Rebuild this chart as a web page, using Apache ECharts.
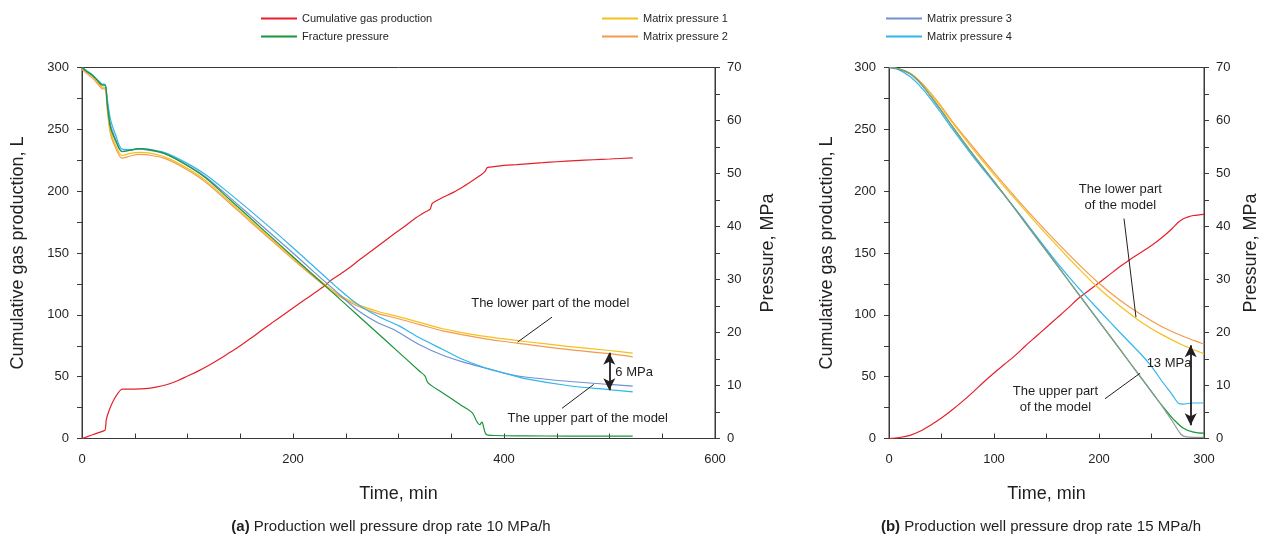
<!DOCTYPE html>
<html>
<head>
<meta charset="utf-8">
<title>Cumulative gas production and pressure</title>
<script src="https://cdn.jsdelivr.net/npm/echarts@6/dist/echarts.min.js"></script>
<style>
html, body { margin: 0; padding: 0; background: #fff; }
#chart { width: 1264px; height: 541px; }
</style>
</head>
<body>
<div id="chart"></div>
<script>
// tick labels
const timeLabelsA = [0, 200, 400, 600];
const timeLabelsB = [0, 100, 200, 300];
const gasLabels = [0, 50, 100, 150, 200, 250, 300];
const pressureLabels = [0, 10, 20, 30, 40, 50, 60, 70];

// (a) 10 MPa/h  -- [time min, value]
const gasA = [[0,0],[5,1.5],[10,3],[15,4.5],[20,6],[22,7],[23,15],[25,21],[28,27.5],[31,32.5],[34,36.5],[37,39.5],[39,40],[50,40],[60,40.3],[70,41.5],[80,43.5],[90,46.5],[100,50.5],[110,54.5],[120,59],[130,64],[140,69.5],[150,75],[160,81],[171,88],[180,93.5],[190,99.5],[200,105.5],[210,111.5],[220,117.5],[230,123.5],[236,128],[245,133],[255,139],[263,144.5],[275,152],[285,158.5],[295,165],[305,171],[315,177.5],[325,183],[330,185.5],[332,190],[340,194],[352,199],[362,204],[371,209],[378,213],[382,216],[384,219],[387,219.5],[400,220.8],[412,221.5],[425,222.3],[437,223],[450,223.8],[468,224.7],[485,225.4],[500,226],[522,227]];
const fracA = [[0,70],[5,69.2],[10,68.5],[14,67.7],[19,66.7],[22,66.7],[24,63],[27,58.7],[32,56.1],[38,54.1],[46,54.4],[54,54.7],[63,54.5],[79,53.7],[98,51.7],[117,49.2],[140,45.1],[160,41.5],[180,37.9],[200,34.3],[220,30.7],[240,27.1],[260,23.5],[280,19.9],[300,16.3],[320,12.7],[325,11.8],[328,10.5],[342,8.6],[360,6.2],[370,4.85],[374,3.3],[377,2.6],[379,3.1],[383,0.8],[390,0.57],[420,0.5],[460,0.45],[522,0.43]];
const matrix1A = [[0,69.8],[5,69],[10,68.3],[14,67.4],[19,66.3],[22,66.2],[24,62.5],[27,58],[32,55.3],[38,53.4],[46,53.8],[54,54],[63,53.9],[79,53.1],[98,51.2],[117,48.7],[140,44.7],[160,41.1],[180,37.6],[200,34.1],[220,30.7],[240,27.6],[260,25.4],[280,24],[300,23],[320,21.9],[342,20.7],[360,20],[380,19.3],[400,18.8],[420,18.3],[460,17.4],[500,16.6],[522,16.1]];
const matrix2A = [[0,69.6],[5,68.8],[10,68],[14,67.1],[19,66],[22,65.9],[24,62],[27,57.5],[32,54.8],[38,52.9],[46,53.3],[54,53.6],[63,53.5],[79,52.8],[98,50.9],[117,48.4],[140,44.4],[160,40.8],[180,37.3],[200,33.8],[220,30.4],[240,27.3],[260,25.1],[280,23.6],[300,22.6],[320,21.5],[342,20.3],[360,19.6],[380,18.9],[400,18.3],[420,17.8],[460,16.8],[500,16],[522,15.4]];
const matrix3A = [[0,70],[5,69.2],[10,68.5],[14,67.7],[19,66.7],[22,66.6],[24,63.3],[27,59.2],[32,56.4],[38,54.2],[46,54.4],[54,54.6],[63,54.4],[79,53.7],[98,51.8],[117,49.4],[140,45.5],[160,42],[180,38.5],[200,35],[220,31.4],[240,27.9],[260,24.4],[280,21.9],[295,20.6],[320,17.7],[342,15.7],[360,14.5],[380,13.4],[405,12.1],[420,11.6],[460,10.8],[500,10.2],[522,9.9]];
const matrix4A = [[0,70],[5,69.3],[10,68.6],[14,67.8],[19,66.9],[22,66.8],[24,64],[27,60.2],[32,57.2],[38,54.6],[46,54.5],[54,54.7],[63,54.6],[79,53.9],[98,52.1],[117,49.8],[140,46.2],[160,42.9],[180,39.5],[200,36],[220,32.4],[240,28.8],[260,25.5],[280,23.1],[300,21.3],[320,19],[342,16.8],[360,15],[380,13.5],[405,12.1],[420,11.3],[460,10],[500,9.2],[522,8.8]];

// (b) 15 MPa/h
const gasB = [[0,0],[10,0.8],[20,2.5],[30,6],[40,11],[50,16.5],[60,23],[70,30],[80,37.5],[90,45.5],[100,53],[110,60],[120,67],[130,75],[140,82.5],[150,90],[160,97.5],[170,105],[180,113],[190,119.5],[200,126],[210,132.5],[220,139],[230,145],[240,150.5],[250,156],[260,162.5],[270,170],[275,174.5],[280,177.5],[285,179.2],[290,180.3],[300,181.3]];
const fracB = [[0,70],[10,69.7],[20,68.8],[30,67],[40,64.5],[50,61.8],[60,59],[80,53.6],[100,48.5],[120,43.3],[140,38],[160,32.7],[180,27.4],[200,22.1],[220,16.8],[240,11.5],[255,7.5],[265,5],[272,3.4],[280,2],[290,1.2],[300,1]];
const matrix1B = [[0,70],[10,69.7],[20,68.9],[30,67.3],[40,65],[50,62.4],[60,59.7],[80,54.6],[100,49.8],[120,45.2],[140,40.7],[160,36.4],[180,32.2],[200,28.3],[220,25],[240,22],[260,19.6],[280,17.6],[300,16]];
const matrix2B = [[0,70],[10,69.7],[20,68.9],[30,67.3],[40,65.1],[50,62.6],[60,59.9],[80,55],[100,50.2],[120,45.6],[140,41.2],[160,37],[180,33],[200,29.3],[220,26.1],[240,23.4],[260,21.1],[280,19.3],[300,17.8]];
const matrix3B = [[0,70],[10,69.7],[20,68.8],[30,67],[40,64.5],[50,61.8],[60,59],[80,53.6],[100,48.5],[120,43.3],[140,38],[160,32.7],[180,27.4],[200,22.1],[220,16.8],[240,11.5],[255,7.5],[265,4.7],[272,2.6],[278,0.8],[283,0.3],[300,0.2]];
const matrix4B = [[0,70],[10,69.5],[20,68.3],[30,66.4],[40,64],[50,61.3],[60,58.5],[80,53.2],[100,48.3],[120,43.4],[140,38.3],[160,33.2],[180,28.5],[200,24.2],[220,20],[240,15.9],[250,13.6],[260,10.8],[270,8.2],[276,6.6],[280,6.5],[290,6.7],[300,6.7]];

const FONT = 'Liberation Sans, Arial, sans-serif';
const TXT = '#231f20';
const AXIS = '#3a3a3a';
const C = {
  gas: '#e5202a', frac: '#17963a', m1: '#f5c01c', m2: '#f39b4c',
  m3: '#7191d3', m4: '#30b6ea', m3b: '#8c9b95'
};

function timeAxis(grid, max, labels) {
  return {
    type: 'value', gridIndex: grid, min: 0, max: max, interval: 50,
    name: 'Time, min', nameLocation: 'middle', nameGap: 47,
    nameTextStyle: { fontSize: 18, color: TXT, fontFamily: FONT },
    axisLine: { lineStyle: { color: AXIS } },
    axisTick: { inside: true, length: 5, lineStyle: { color: AXIS } },
    axisLabel: { margin: 14, fontSize: 13, color: TXT, fontFamily: FONT,
      formatter: v => labels.indexOf(v) >= 0 ? String(v) : '' },
    splitLine: { show: false }
  };
}
function gasAxis(grid, gap) {
  return {
    type: 'value', gridIndex: grid, position: 'left', min: 0, max: 300, interval: 25,
    name: 'Cumulative gas production, L', nameLocation: 'middle', nameGap: gap, nameRotate: 90,
    nameTextStyle: { fontSize: 18, color: TXT, fontFamily: FONT },
    axisLine: { show: true, lineStyle: { color: AXIS } },
    axisTick: { show: true, length: 5, lineStyle: { color: AXIS } },
    axisLabel: { margin: 13, fontSize: 13, color: TXT, fontFamily: FONT,
      formatter: v => gasLabels.indexOf(v) >= 0 ? String(v) : '' },
    splitLine: { show: false }
  };
}
function pressureAxis(grid, gap) {
  return {
    type: 'value', gridIndex: grid, position: 'right', min: 0, max: 70, interval: 5,
    name: 'Pressure, MPa', nameLocation: 'middle', nameGap: gap, nameRotate: 90,
    nameTextStyle: { fontSize: 18, color: TXT, fontFamily: FONT },
    axisLine: { show: true, lineStyle: { color: AXIS } },
    axisTick: { show: true, length: 5, lineStyle: { color: AXIS } },
    axisLabel: { margin: 12, fontSize: 13, color: TXT, fontFamily: FONT,
      formatter: v => pressureLabels.indexOf(v) >= 0 ? String(v) : '' },
    splitLine: { show: false }
  };
}
function line(name, data, color, xi, yi, extra) {
  return Object.assign({
    name: name, type: 'line', data: data, xAxisIndex: xi, yAxisIndex: yi,
    symbol: 'none', smooth: 0.3, animation: false,
    lineStyle: { color: color, width: 1.2 }, itemStyle: { color: color }
  }, extra || {});
}

const leader = { color: TXT, width: 1, type: 'solid' };
const arrowStyle = { color: TXT, width: 1.8, type: 'solid' };
function marks(items) {
  return {
    silent: true, animation: false, symbol: ['none', 'none'], label: { show: false },
    lineStyle: leader, data: items
  };
}
function seg(a, b) { return [{ coord: a }, { coord: b }]; }
function arrow(a, b) {
  return [{ coord: a, symbol: 'arrow', symbolSize: [9, 12], lineStyle: arrowStyle },
          { coord: b, symbol: 'arrow', symbolSize: [9, 12] }];
}

const legendBase = {
  orient: 'vertical', top: 8, icon: 'rect', itemWidth: 36, itemHeight: 2, itemGap: 7,
  selectedMode: false, textStyle: { fontSize: 11, color: TXT, fontFamily: FONT }
};

const option = {
  backgroundColor: '#fff',
  textStyle: { fontFamily: FONT },
  legend: [
    Object.assign({ left: 256, data: ['Cumulative gas production', 'Fracture pressure'] }, legendBase),
    Object.assign({ left: 597, data: ['Matrix pressure 1', 'Matrix pressure 2'] }, legendBase),
    Object.assign({ left: 881, data: ['Matrix pressure 3', 'Matrix pressure 4'] }, legendBase)
  ],
  grid: [
    { left: 82, top: 67.5, width: 633, height: 371, show: true, borderColor: AXIS, borderWidth: 1,
      outerBoundsMode: 'none', containLabel: false },
    { left: 889, top: 67.5, width: 315, height: 371, show: true, borderColor: AXIS, borderWidth: 1,
      outerBoundsMode: 'none', containLabel: false }
  ],
  xAxis: [timeAxis(0, 600, timeLabelsA), timeAxis(1, 300, timeLabelsB)],
  yAxis: [gasAxis(0, 55), pressureAxis(0, 44), gasAxis(1, 53), pressureAxis(1, 38)],
  series: [
    line('Cumulative gas production', gasA, C.gas, 0, 0),
    line('Matrix pressure 2', matrix2A, C.m2, 0, 1),
    line('Matrix pressure 1', matrix1A, C.m1, 0, 1),
    line('Matrix pressure 3', matrix3A, C.m3, 0, 1),
    line('Matrix pressure 4', matrix4A, C.m4, 0, 1),
    line('Fracture pressure', fracA, C.frac, 0, 1, {
      markLine: marks([
        seg([445.5, 22.9], [412.9, 18.2]),
        seg([485, 10.2], [455, 5.7]),
        arrow([499.8, 16.2], [499.8, 9.1])
      ])
    }),
    line('Cumulative gas production', gasB, C.gas, 1, 2),
    line('Matrix pressure 2', matrix2B, C.m2, 1, 3),
    line('Matrix pressure 1', matrix1B, C.m1, 1, 3),
    line('Matrix pressure 4', matrix4B, C.m4, 1, 3),
    line('Fracture pressure', fracB, C.frac, 1, 3, {
      markLine: marks([
        seg([223.8, 41.5], [235.2, 22.9]),
        seg([205.7, 7.5], [239, 12.3]),
        arrow([287.3, 17.6], [287.3, 2.5])
      ])
    }),
    line('Matrix pressure 3', matrix3B, C.m3b, 1, 3)
  ]
};

const chart = echarts.init(document.getElementById('chart'), null, { renderer: 'canvas' });
chart.setOption(option);

// annotation texts placed in data coordinates of the pressure axes
const notes = [
  { grid: [0, 1], at: [443.9, 25.4], text: 'The lower part of the model' },
  { grid: [0, 1], at: [479.4, 3.8], text: 'The upper part of the model' },
  { grid: [0, 1], at: [505.5, 12.5], text: '6 MPa', align: 'left' },
  { grid: [1, 3], at: [220.3, 45.5], text: 'The lower part\nof the model' },
  { grid: [1, 3], at: [158.5, 7.4], text: 'The upper part\nof the model' },
  { grid: [1, 3], at: [266.7, 14.1], text: '13 MPa' }
];
const graphics = notes.map(n => {
  const p = chart.convertToPixel({ xAxisIndex: n.grid[0], yAxisIndex: n.grid[1] }, n.at);
  return {
    type: 'text', x: p[0], y: p[1], z: 10, silent: true,
    style: { text: n.text, fill: TXT, fontSize: 13, fontFamily: FONT, lineHeight: 16,
      align: n.align || 'center', verticalAlign: 'middle' }
  };
});
graphics.push(
  { type: 'text', x: 391, y: 527, silent: true,
    style: { text: '{b|(a)} Production well pressure drop rate 10 MPa/h', fill: TXT,
      fontSize: 15, fontFamily: FONT, align: 'center', verticalAlign: 'middle',
      rich: { b: { fontWeight: 'bold', fontSize: 15, fontFamily: FONT, fill: TXT } } } },
  { type: 'text', x: 1041, y: 527, silent: true,
    style: { text: '{b|(b)} Production well pressure drop rate 15 MPa/h', fill: TXT,
      fontSize: 15, fontFamily: FONT, align: 'center', verticalAlign: 'middle',
      rich: { b: { fontWeight: 'bold', fontSize: 15, fontFamily: FONT, fill: TXT } } } }
);
chart.setOption({ graphic: graphics });
</script>
</body>
</html>
